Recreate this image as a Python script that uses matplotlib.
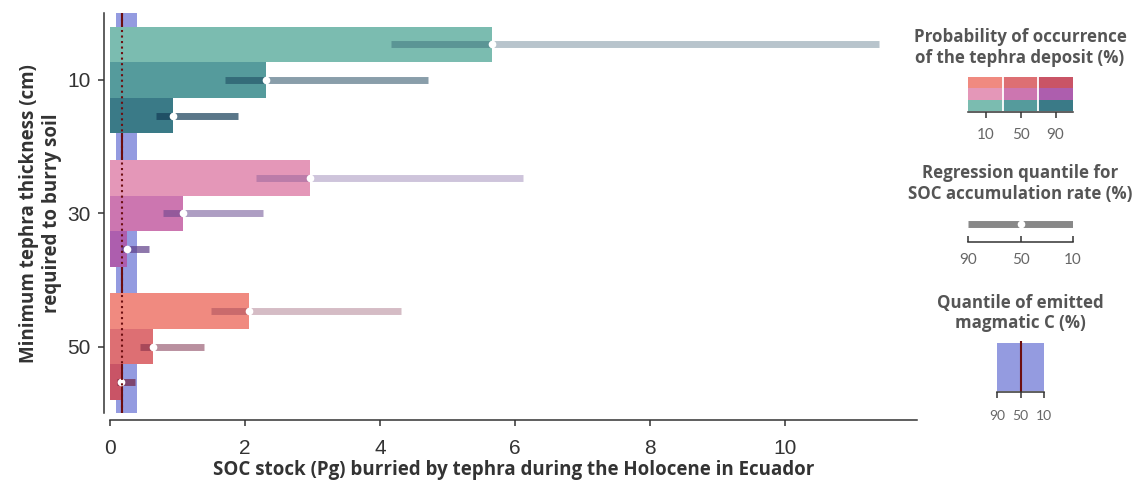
import matplotlib.pyplot as plt
import matplotlib.colors as mcolors
import numpy as np

# tephra thickness groups (cm) and probability of occurrence (%)
thickness = [10, 30, 50]
probability = [10, 50, 90]

# SOC stock (Pg): rows = thickness, cols = probability 10 / 50 / 90
soc_q50 = [[5.65, 2.31, 0.93],
           [2.96, 1.08, 0.25],
           [2.06, 0.64, 0.16]]
soc_q90 = [[4.16, 1.70, 0.68],
           [2.16, 0.79, 0.17],
           [1.50, 0.44, 0.10]]
soc_q10 = [[11.39, 4.71, 1.90],
           [6.12, 2.27, 0.58],
           [4.31, 1.39, 0.37]]

# emitted magmatic C (Pg): quantiles 90 / 50 / 10
magmatic_c = [0.09, 0.18, 0.40]
quantile_ticks = [90, 50, 10]

bar_colors = [["#7bbcb0", "#559b9c", "#3a7a87"],
              ["#e497b8", "#cc76b0", "#ad5eae"],
              ["#f08a80", "#dd6f73", "#c95466"]]
line_colors = ["#143e57", "#5e3e88", "#752341"]
line_alpha = [0.3, 0.5, 0.7]
band_color = "#949be0"
red = "#6d0e10"
txt = "#333333"
leg_txt = "#555555"
tick_txt = "#666666"

plt.rcParams["font.family"] = ["Open Sans", "DejaVu Sans"]
DPI = 100
W, H = 1139, 484
fig = plt.figure(figsize=(W / DPI, H / DPI), dpi=DPI)


def px_axes(x0, y0, x1, y1):
    # pixel box (top-left origin) -> figure axes
    return fig.add_axes([x0 / W, 1 - y1 / H, (x1 - x0) / W, (y1 - y0) / H])


def legend_axis(a, direction, pad, size):
    a.set_yticks([])
    for s in ["top", "right", "left"]:
        a.spines[s].set_visible(False)
    a.spines["bottom"].set_color(txt)
    a.spines["bottom"].set_linewidth(1.1)
    a.tick_params(axis="x", direction=direction, colors=txt, length=4.5, width=1.1,
                  labelsize=size, pad=pad, labelcolor=tick_txt)
    for lab in a.get_xticklabels():
        lab.set_family("Lato")


ax = px_axes(110, 13.3, 917, 413.3)

bh = 16 / 3
for i, t in enumerate(thickness):
    for k in range(3):
        y = t + (k - 1) * bh
        ax.barh(y, soc_q50[i][k], height=bh, left=0, color=bar_colors[i][k],
                zorder=2, linewidth=0)
        ax.plot([soc_q90[i][k], soc_q10[i][k]], [y, y], color=line_colors[i],
                alpha=line_alpha[k], lw=5, solid_capstyle="butt", zorder=3)
        ax.plot(soc_q50[i][k], y, "o", mfc="white", mec="none", ms=5.5, zorder=4)

# magmatic C band
ax.axvspan(magmatic_c[0], magmatic_c[2], color=band_color, zorder=0, lw=0)
ax.axvline(magmatic_c[1], color=red, lw=1.5, zorder=1)
ax.axvline(magmatic_c[1], color=red, lw=1.5, ls=":", zorder=5)

ax.set_xlim(0, 11.95)
ax.set_ylim(60, 0)
ax.set_yticks(thickness)
ax.set_xticks([0, 2, 4, 6, 8, 10])
for s in ["top", "right"]:
    ax.spines[s].set_visible(False)
ax.spines["left"].set_position(("outward", 6 * 72 / DPI))
ax.spines["bottom"].set_position(("outward", 7 * 72 / DPI))
for s in ["left", "bottom"]:
    ax.spines[s].set_color(txt)
    ax.spines[s].set_linewidth(1.1)
ax.tick_params(colors=txt, length=4.5, width=1.1, labelsize=15)
ax.tick_params(axis="x", pad=9)
ax.tick_params(axis="y", pad=5)
for lab in ax.get_xticklabels() + ax.get_yticklabels():
    lab.set_family("Liberation Sans")

ax.set_xlabel("SOC stock (Pg) burried by tephra during the Holocene in Ecuador",
              fontsize=13.5, fontweight="bold", color=txt)
ax.xaxis.set_label_coords(0.5, -0.116)
ax.set_ylabel("Minimum tephra thickness (cm)\nrequired to burry soil",
              fontsize=13.5, fontweight="bold", color=txt, linespacing=1.15)
ax.yaxis.set_label_coords(-0.060, 0.5)

# legend 1: probability of occurrence
fig.text(1020 / W, 1 - 47.5 / H, "Probability of occurrence\nof the tephra deposit (%)",
         ha="center", va="center", fontsize=12.2, fontweight="bold", color=leg_txt,
         linespacing=1.2)
l1 = px_axes(968, 77.3, 1073, 110.7)
grid = np.array([[mcolors.to_rgb(c) for c in row] for row in bar_colors[::-1]])
l1.imshow(grid, aspect="auto", extent=(-0.5, 2.5, 2.5, -0.5), interpolation="nearest")
for xb in [0.5, 1.5]:
    l1.axvline(xb, color="white", lw=1.3)
l1.set_xticks(range(3))
l1.set_xticklabels(probability)
l1.spines["bottom"].set_position(("outward", 1))
legend_axis(l1, "out", 7, 11)

# legend 2: regression quantile
fig.text(1020 / W, 1 - 183.5 / H, "Regression quantile for\nSOC accumulation rate (%)",
         ha="center", va="center", fontsize=12.2, fontweight="bold", color=leg_txt,
         linespacing=1.2)
l2 = px_axes(968, 214.7, 1073, 241.7)
l2.set_xlim(quantile_ticks[0], quantile_ticks[-1])
l2.set_ylim(0, 1)
l2.plot([quantile_ticks[0], quantile_ticks[-1]], [0.656, 0.656], color="#888888",
        lw=5, solid_capstyle="butt")
l2.plot(quantile_ticks[1], 0.656, "o", mfc="white", mec="none", ms=5.5)
l2.set_xticks(quantile_ticks)
legend_axis(l2, "in", 8, 11)

# legend 3: emitted magmatic C
fig.text(1020 / W, 1 - 313 / H, "Quantile of emitted\nmagmatic C (%)",
         ha="center", va="center", fontsize=12.2, fontweight="bold", color=leg_txt,
         linespacing=1.2)
l3 = px_axes(997, 341, 1044, 392.3)
l3.set_xlim(quantile_ticks[0], quantile_ticks[-1])
l3.set_ylim(0, 1)
l3.axvspan(quantile_ticks[0], quantile_ticks[-1], ymin=0.02, ymax=0.97,
           color=band_color, lw=0)
l3.axvline(quantile_ticks[1], color=red, lw=1.5)
l3.set_xticks(quantile_ticks)
legend_axis(l3, "out", 8, 10)

fig.savefig("out.png", dpi=DPI)
